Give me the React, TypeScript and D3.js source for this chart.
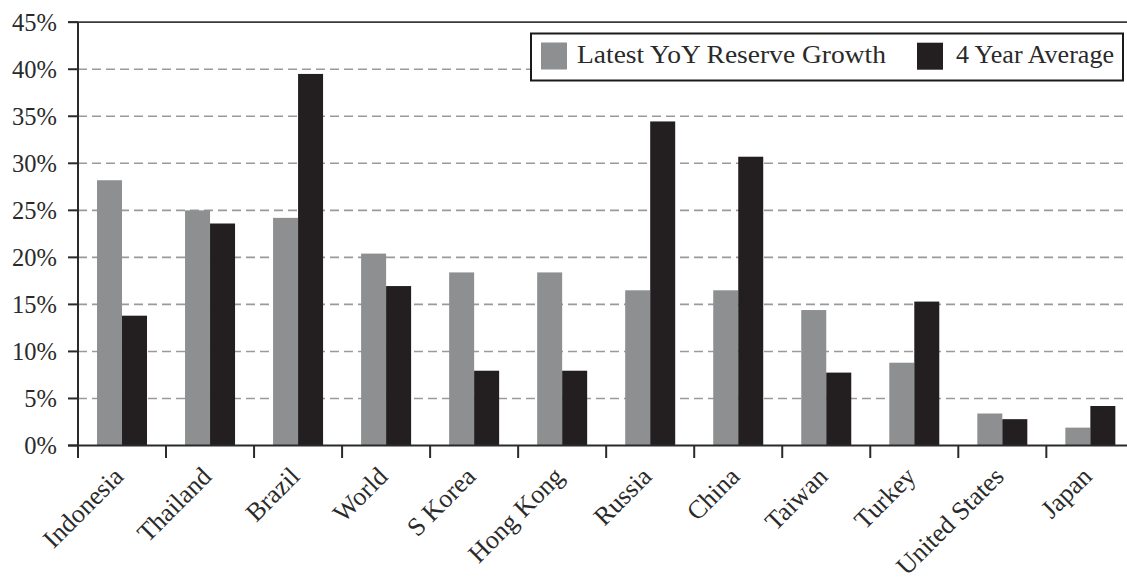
import React from "react";
import * as d3 from "d3";

const categories = ["Indonesia", "Thailand", "Brazil", "World", "S Korea", "Hong Kong", "Russia", "China", "Taiwan", "Turkey", "United States", "Japan"];
const latestYoY = [28.2, 25.0, 24.2, 20.4, 18.4, 18.4, 16.5, 16.5, 14.4, 8.8, 3.4, 1.9];
const fourYearAvg = [13.8, 23.6, 39.5, 16.95, 7.95, 7.95, 34.45, 30.7, 7.75, 15.3, 2.8, 4.2];
const seriesNames = ["Latest YoY Reserve Growth", "4 Year Average"];
const yTicks = [0, 5, 10, 15, 20, 25, 30, 35, 40, 45];

const W = 1127;
const H = 581;
const FONT = "'Liberation Serif', 'DejaVu Serif', serif";
const GRAY = "#8e8f91";
const BLACK = "#231f20";
const TEXT = "#2a2a2a";

export default function App() {
  const left = 78;
  const bandW = 88.03;
  const x = d3.scaleBand<string>().domain(categories).range([left, left + bandW * categories.length]).padding(0);
  const bw = x.bandwidth();
  const x1 = d3.scaleBand<string>().domain(seriesNames).range([bw / 2 - 25, bw / 2 + 25]).padding(0);
  const y = d3.scaleLinear().domain([0, 45]).range([445.5, 22.2]);
  const values = [latestYoY, fourYearAvg];
  const colors = [GRAY, BLACK];
  const y0 = y(0);

  return (
    <svg width={W} height={H} style={{ position: "absolute", left: 0, top: 0, background: "#fff" }} fontFamily={FONT}>
      <rect x={0} y={0} width={W} height={H} fill="#fff" />
      {yTicks.filter((t) => t > 0 && t < 45).map((t) => (
        <line key={"g" + t} x1={left} x2={W} y1={y(t)} y2={y(t)} stroke="#9a9a9a" strokeWidth={1.6} strokeDasharray="9,5" />
      ))}
      <line x1={68} x2={W} y1={y(45)} y2={y(45)} stroke="#3a3a3a" strokeWidth={1.8} />
      {values.map((vals, si) =>
        vals.map((v, i) => (
          <rect
            key={si + "-" + i}
            x={(x(categories[i]) as number) + (x1(seriesNames[si]) as number)}
            y={y(v)}
            width={x1.bandwidth()}
            height={y0 - y(v)}
            fill={colors[si]}
          />
        ))
      )}
      <line x1={left} x2={left} y1={y(45)} y2={y0} stroke="#2a2a2a" strokeWidth={2} />
      {yTicks.map((t) => (
        <g key={"t" + t}>
          <line x1={68} x2={left} y1={y(t)} y2={y(t)} stroke="#2a2a2a" strokeWidth={2} />
          <text x={57} y={y(t) + 8.5} textAnchor="end" fontSize={24.5} fill={TEXT}>{t + "%"}</text>
        </g>
      ))}
      <line x1={68} x2={W} y1={y0} y2={y0} stroke="#2a2a2a" strokeWidth={2} />
      {categories.map((c) => (
        <line key={"xt" + c} x1={x(c) as number} x2={x(c) as number} y1={y0} y2={458} stroke="#2a2a2a" strokeWidth={2} />
      ))}
      {categories.map((c) => {
        const cx = (x(c) as number) + bw / 2 + 3;
        const cy = 478;
        return (
          <text key={"xl" + c} x={cx} y={cy} textAnchor="end" fontSize={26} fill={TEXT} transform={`rotate(-45,${cx},${cy})`}>
            {c}
          </text>
        );
      })}
      <rect x={531} y={33.5} width={592} height={47} fill="#fff" stroke="#1a1a1a" strokeWidth={2} />
      <rect x={541} y={42.5} width={26} height={27} fill={GRAY} />
      <text x={577} y={63} fontSize={25} fill={TEXT} textLength={309} lengthAdjust="spacingAndGlyphs">{seriesNames[0]}</text>
      <rect x={917} y={42.7} width={26} height={27} fill={BLACK} />
      <text x={956} y={63} fontSize={25} fill={TEXT} textLength={158} lengthAdjust="spacingAndGlyphs">{seriesNames[1]}</text>
    </svg>
  );
}
